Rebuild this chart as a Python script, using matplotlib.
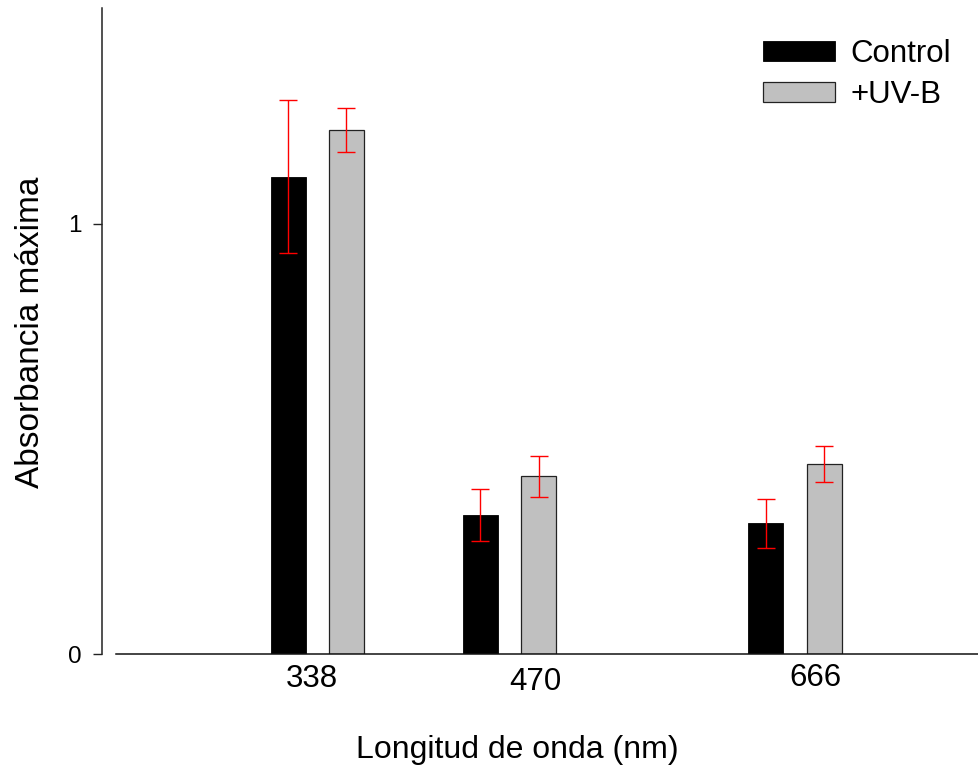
import matplotlib
matplotlib.use("Agg")
import matplotlib.pyplot as plt
from matplotlib.patches import Patch
from matplotlib.transforms import blended_transform_factory, offset_copy

plt.rcParams['font.family'] = ['Liberation Sans', 'DejaVu Sans']

# Peak absorbance at each wavelength (nm), mean and error
wavelengths = [338, 470, 666]
control = [1.109, 0.323, 0.304]
control_err = [0.178, 0.060, 0.057]
uvb = [1.218, 0.413, 0.442]
uvb_err = [0.051, 0.048, 0.042]
tick_labels = ["338", "470", "666"]
series_names = ["Control", "+UV-B"]

# Label nudges in pixels (dx, dy below axis)
label_dx = [-5, 26, 20]
label_dy = [25, 28, 24]

W, H = 979, 772
fig = plt.figure(figsize=(W / 100, H / 100), dpi=100)
ax = fig.add_axes([101.7 / W, 1 - 654.3 / H, (990.3 - 101.7) / W, (654.3 - 8.4) / H])

offset = 20
width = 24
x_c = [w - offset for w in wavelengths]
x_u = [w + offset for w in wavelengths]

ax.bar(x_c, control, width=width, color="black", edgecolor="black", linewidth=0.6, zorder=2)
ax.bar(x_u, uvb, width=width, color="#c0c0c0", edgecolor="#222222", linewidth=0.9, zorder=2)
ax.errorbar(x_c, control, yerr=control_err, fmt="none", ecolor="red", elinewidth=1.0,
            capsize=6.5, capthick=1.0, zorder=3)
ax.errorbar(x_u, uvb, yerr=uvb_err, fmt="none", ecolor="red", elinewidth=1.0,
            capsize=6.5, capthick=1.0, zorder=3)

ax.set_xlim(190, 800)
ax.set_ylim(0, 1.5)

for s in ["top", "right"]:
    ax.spines[s].set_visible(False)
ax.spines["left"].set_linewidth(1.1)
ax.spines["left"].set_color("#222222")
ax.spines["bottom"].set_linewidth(1.1)
ax.spines["bottom"].set_color("#111111")
ax.spines["bottom"].set_bounds(200, 800)

ax.set_yticks([0, 1])
ax.set_yticklabels(["0", "1"], fontsize=17.5)
ax.tick_params(axis="y", direction="out", length=6.5, width=1.0, pad=8, color="#222222")
ax.set_xticks([])

# Wavelength labels under each group
trans = blended_transform_factory(ax.transData, ax.transAxes)
for w, lab, dx, dy in zip(wavelengths, tick_labels, label_dx, label_dy):
    t = offset_copy(trans, fig=fig, x=dx, y=-dy, units="dots")
    ax.text(w, 0, lab, transform=t, ha="center", va="center", fontsize=22.5, clip_on=False)

fig.text(517.5 / W, 1 - 750 / H, "Longitud de onda (nm)", ha="center", va="center", fontsize=23)
fig.text(31 / W, 1 - 332 / H, "Absorbancia máxima", ha="center", va="center",
         rotation=90, fontsize=24)

handles = [Patch(facecolor="black", edgecolor="black", linewidth=0.6),
           Patch(facecolor="#c0c0c0", edgecolor="#222222", linewidth=0.9)]
fig.legend(handles, series_names, loc="upper left", bbox_to_anchor=(762.7 / W, 1 - 39 / H),
           frameon=False, fontsize=22.5, handlelength=2.3, handleheight=0.62,
           handletextpad=0.52, labelspacing=0.36, borderpad=0, borderaxespad=0)

fig.savefig("out.png", dpi=100)
